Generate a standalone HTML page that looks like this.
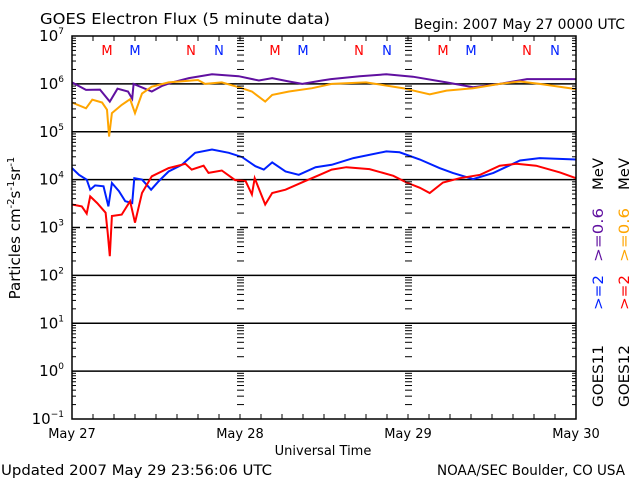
<!DOCTYPE html>
<html><head><meta charset="utf-8"><style>
html,body{margin:0;padding:0;background:#fff;}
svg{display:block;font-family:"DejaVu Sans","Liberation Sans",sans-serif;}
</style></head><body>
<svg id="chart" width="640" height="480" viewBox="0 0 640 480">
<rect width="640" height="480" fill="#fff"/>
<text x="40" y="24" font-size="15" textLength="290" lengthAdjust="spacingAndGlyphs">GOES Electron Flux (5 minute data)</text>
<text x="414" y="29" font-size="14" textLength="211" lengthAdjust="spacingAndGlyphs">Begin: 2007 May 27 0000 UTC</text>
<g id="grid"></g>
<g id="series"></g>
<g id="axes"></g>
<text transform="translate(20,228) rotate(-90)" font-size="15" text-anchor="middle">Particles cm<tspan dy="-6" font-size="10">-2</tspan><tspan dy="6">s</tspan><tspan dy="-6" font-size="10">-1</tspan><tspan dy="6">sr</tspan><tspan dy="-6" font-size="10">-1</tspan></text>
<text x="323" y="455" font-size="13" text-anchor="middle">Universal Time</text>
<text x="1" y="475" font-size="14" textLength="271" lengthAdjust="spacingAndGlyphs">Updated 2007 May 29 23:56:06 UTC</text>
<text x="437" y="475" font-size="14" textLength="188" lengthAdjust="spacingAndGlyphs">NOAA/SEC Boulder, CO USA</text>
<g font-size="14">
<text transform="translate(603,407) rotate(-90)" textLength="62" lengthAdjust="spacingAndGlyphs" fill="#000">GOES11</text>
<text transform="translate(603,310) rotate(-90)" textLength="35" lengthAdjust="spacingAndGlyphs" fill="#0020ff">&gt;=2</text>
<text transform="translate(603,262) rotate(-90)" textLength="54" lengthAdjust="spacingAndGlyphs" fill="#6010a0">&gt;=0.6</text>
<text transform="translate(603,190) rotate(-90)" textLength="32" lengthAdjust="spacingAndGlyphs" fill="#000">MeV</text>
<text transform="translate(629,407) rotate(-90)" textLength="62" lengthAdjust="spacingAndGlyphs" fill="#000">GOES12</text>
<text transform="translate(629,310) rotate(-90)" textLength="35" lengthAdjust="spacingAndGlyphs" fill="#ff0000">&gt;=2</text>
<text transform="translate(629,262) rotate(-90)" textLength="54" lengthAdjust="spacingAndGlyphs" fill="#ffa500">&gt;=0.6</text>
<text transform="translate(629,190) rotate(-90)" textLength="32" lengthAdjust="spacingAndGlyphs" fill="#000">MeV</text>
</g>
</svg>
<script>
const dayLabels = ["May 27","May 28","May 29","May 30"];
const decadeExps = [7,6,5,4,3,2,1,0,-1];
const markerHours = [5,9,17,21,29,33,41,45,53,57,65,69];
const markerLetters = ["M","M","N","N","M","M","N","N","M","M","N","N"];
const markerSat = [12,11,12,11,12,11,12,11,12,11,12,11];

const g11LowHours = [0,2,4,5.4,6.5,8,8.6,8.8,11.4,12.9,14.3,16.7,20,23.8,26.7,28.6,31,32.9,35.7,37,41.1,44.9,48.7,53.5,57.3,61.1,65,72];
const g11LowLog = [6.03,5.875,5.88,5.63,5.9,5.84,5.69,6.0,5.84,5.96,6.03,6.12,6.2,6.16,6.07,6.12,6.05,6.0,6.07,6.1,6.16,6.2,6.15,6.03,5.93,6.0,6.1,6.1];

const g12LowHours = [0,2,2.9,4.3,5,5.3,5.7,7.1,8.3,9,10,11.4,13.8,18,19,21.4,23.8,25.7,27.6,28.6,31,34.3,37.1,42,47.3,51.1,53.5,57.3,61.1,64,66.8,72];
const g12LowLog = [5.61,5.49,5.67,5.61,5.46,4.9,5.39,5.56,5.68,5.39,5.8,5.94,6.03,6.08,6.0,6.03,5.93,5.84,5.63,5.77,5.84,5.91,6.0,6.03,5.91,5.78,5.86,5.91,6.0,6.05,6.0,5.89];

const g11HighHours = [0,1,2.1,2.6,3.3,4.5,5.2,5.7,6.7,7.6,8.6,8.9,10,11.3,12.4,13.8,15.7,17.6,20,22.4,24.3,26.2,27.4,28.6,30.5,32.4,34.8,37.1,40.2,44.9,46.8,49.7,52.5,54.4,57.3,60.2,64,66.8,72];
const g11HighLog = [4.24,4.1,4.0,3.79,3.88,3.86,3.44,3.93,3.76,3.55,3.51,4.03,4.0,3.79,3.97,4.17,4.31,4.56,4.63,4.56,4.47,4.28,4.21,4.36,4.17,4.1,4.26,4.31,4.45,4.59,4.57,4.42,4.24,4.14,4.01,4.14,4.4,4.45,4.42];

const g12HighHours = [0,1.4,2.1,2.6,3.6,4.8,5.1,5.4,5.7,7.1,8.3,9,10,11.4,13.8,16.2,17.1,18.8,19.5,21.4,23.3,24.8,25.7,26.1,27.6,28.6,30.5,33.3,35.4,37.1,39.2,42.5,45.9,47.8,49.7,51.1,53,55.4,58.3,61.1,63.5,66.3,69.7,72];
const g12HighLog = [3.48,3.44,3.29,3.65,3.51,3.31,2.89,2.4,3.24,3.27,3.55,3.1,3.72,4.07,4.24,4.33,4.21,4.29,4.14,4.19,3.99,3.97,3.69,4.03,3.48,3.72,3.79,3.97,4.1,4.21,4.26,4.22,4.08,3.94,3.83,3.72,3.94,4.03,4.1,4.29,4.33,4.29,4.15,4.03];

const X0=72, X1=576, Y0=36, Y1=419;
const NS="http://www.w3.org/2000/svg";
function xs(h){return X0+(X1-X0)*h/72;}
function ys(l){return Y0+(7-l)*(Y1-Y0)/8;}
function mk(tag,attrs,parent){const e=document.createElementNS(NS,tag);for(const k in attrs)e.setAttribute(k,attrs[k]);parent.appendChild(e);return e;}
const grid=document.getElementById('grid'), axes=document.getElementById('axes'), ser=document.getElementById('series');

decadeExps.forEach(function(p){
  const y=ys(p);
  if(p<7 && p>-1){
    const l=mk('line',{x1:X0,x2:X1,y1:y,y2:y,stroke:'#000','stroke-width':1.5},grid);
    if(p===3) l.setAttribute('stroke-dasharray','8,6');
    
    
  }
  const t=mk('text',{x:64,y:y+5,'font-size':15,'text-anchor':'end'},axes);
  
  
  t.textContent='10';
  const s=mk('tspan',{dy:-7,'font-size':9},t); s.textContent=String(p).replace('-','\u2212');
  if(p>-1){
    for(let m=2;m<10;m++){
      const yy=ys(p-1+Math.log10(m));
      [[X0,X0+4],[X1-4,X1],[xs(24)-3,xs(24)+4],[xs(48)-3,xs(48)+4]].forEach(function(r){
        const tk=mk('line',{x1:r[0],x2:r[1],y1:yy,y2:yy,stroke:'#000','stroke-width':1},axes);
        
        
      });
    }
  }
});
for(let h=3;h<72;h+=3){
  const x=xs(h);
  const a=mk('line',{x1:x,x2:x,y1:Y1,y2:Y1-5,stroke:'#000'},axes);
  
  
  const b=mk('line',{x1:x,x2:x,y1:Y0,y2:Y0+5,stroke:'#000'},axes);
  
  
}
const frame=mk('rect',{x:X0,y:Y0,width:X1-X0,height:Y1-Y0,fill:'none',stroke:'#000','stroke-width':1.5},axes);


dayLabels.forEach(function(d,i){
  const t=mk('text',{x:xs(i*24),y:438,'font-size':13,'text-anchor':'middle'},axes);
  
  
  t.textContent=d;
});
markerHours.forEach(function(h,i){
  const t=mk('text',{x:xs(h),y:55,'font-size':13,'text-anchor':'middle',fill:markerSat[i]===12?'#ff0000':'#0020ff'},axes);
  
  
  t.textContent=markerLetters[i];
});
function drawSeries(hours,vals,color,name){
  let d='';
  hours.forEach(function(h,i){
    const x=xs(h).toFixed(1), y=ys(vals[i]).toFixed(1);
    d+= (i===0?'M':'L')+x+','+y;
  });
  const p=mk('path',{d:d,fill:'none',stroke:color,'stroke-width':2,'stroke-linejoin':'miter'},ser);
  
  
}
drawSeries(g11LowHours,g11LowLog,'#6010a0','goes11-0.6mev-line');
drawSeries(g12LowHours,g12LowLog,'#ffa500','goes12-0.6mev-line');
drawSeries(g11HighHours,g11HighLog,'#0020ff','goes11-2mev-line');
drawSeries(g12HighHours,g12HighLog,'#ff0000','goes12-2mev-line');
</script>
</body></html>
